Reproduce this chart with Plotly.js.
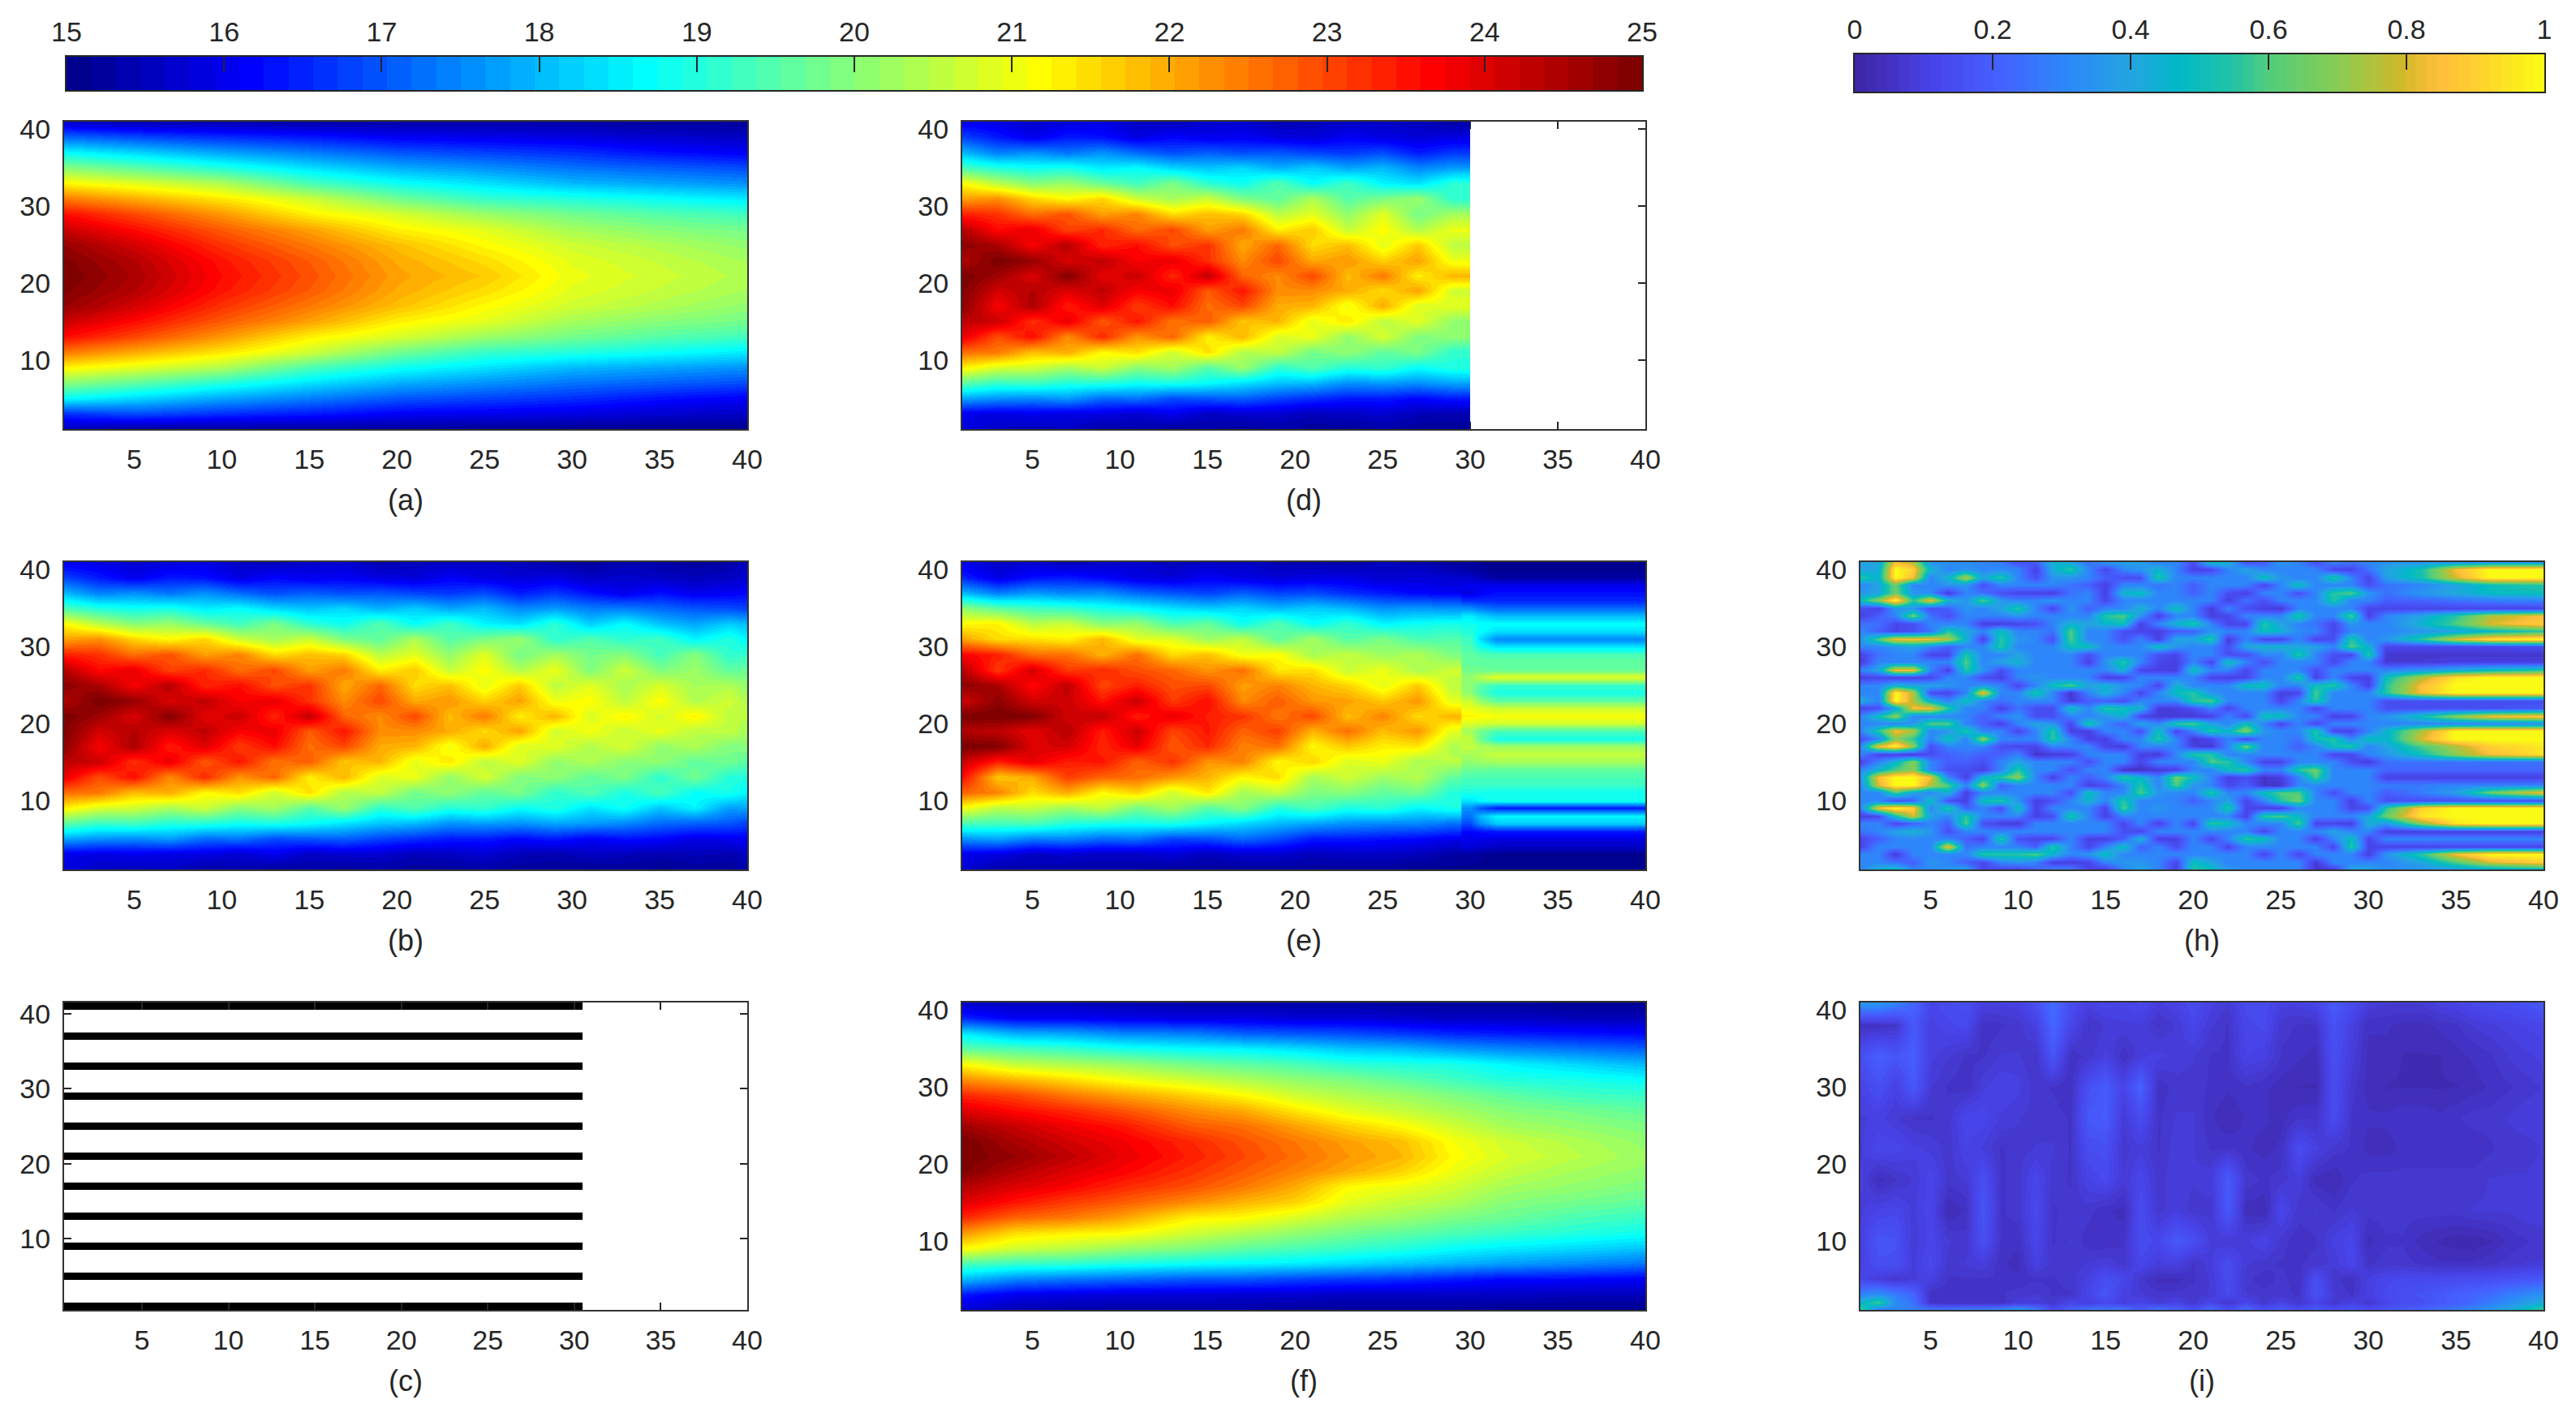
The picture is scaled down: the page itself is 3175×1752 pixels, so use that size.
<!DOCTYPE html>
<html><head><meta charset="utf-8">
<script src="https://cdn.plot.ly/plotly-3.0.1.min.js"></script>
<style>html,body{margin:0;padding:0;background:#fff}</style></head>
<body><div id="chart" style="width:3175px;height:1752px"></div>
<script>
// ---------- data. Rows are listed top (high y) to bottom (low y). ----------
const xTicks=[5,10,15,20,25,30,35,40];
const yTicks=[10,20,30,40];
const jetTicks=[15,16,17,18,19,20,21,22,23,24,25];
const errTicks=[0,0.2,0.4,0.6,0.8,1];
const rowsEvery2=[41,39,37,35,33,31,29,27,25,23,21,19,17,15,13,11,9,7,5,3,1];
const rowsEvery1=[41,40,39,38,37,36,35,34,33,32,31,30,29,28,27,26,25,24,23,22,21,20,19,18,17,16,15,14,13,12,11,10,9,8,7,6,5,4,3,2,1];

const aCols=[1,5,10,15,20,25,30,35,40];
const aZ=[
[15.6,15.4,15.4,15.3,15.3,15.3,15.3,15.2,15.2],
[17.2,16.9,16.6,16.4,16.1,16.0,15.9,15.7,15.6],
[18.7,18.3,17.8,17.4,17.0,16.8,16.6,16.3,16.1],
[20.0,19.6,19.0,18.4,17.9,17.6,17.3,17.1,16.9],
[21.25,20.9,20.4,19.4,18.8,18.4,18.0,17.8,17.6],
[22.5,22.0,21.4,20.7,19.8,19.2,19.0,18.75,18.5],
[23.6,23.0,22.2,21.3,20.8,20.2,19.8,19.5,19.3],
[24.2,23.6,22.8,22.1,21.3,20.9,20.3,20.0,19.8],
[24.7,24.1,23.2,22.5,21.8,21.2,20.7,20.4,20.1],
[24.9,24.4,23.5,22.8,22.0,21.5,20.9,20.6,20.3],
[25.0,24.5,23.6,22.9,22.1,21.7,21.0,20.7,20.4],
[24.9,24.4,23.5,22.8,22.0,21.5,20.9,20.6,20.3],
[24.7,24.1,23.2,22.5,21.8,21.2,20.7,20.4,20.1],
[24.2,23.6,22.8,22.1,21.3,20.9,20.3,20.0,19.8],
[23.6,23.0,22.2,21.3,20.8,20.2,19.8,19.5,19.3],
[22.5,22.0,21.4,20.7,19.8,19.2,19.0,18.75,18.5],
[21.25,20.9,20.4,19.4,18.8,18.4,18.0,17.8,17.6],
[20.0,19.6,19.0,18.4,17.9,17.6,17.3,17.1,16.9],
[18.7,18.3,17.8,17.4,17.0,16.8,16.6,16.3,16.1],
[16.6,16.9,16.6,16.4,16.1,16.0,15.9,15.7,15.6],
[15.5,15.2,15.2,15.2,15.2,15.1,15.1,15.1,15.1]];

const bCols=[1,3,5,7,9,11,13,15,17,19,21,23,25,27,29,31,33,35,37,39,40];
const bZ=[
[16.0,15.9,15.7,15.8,15.9,15.6,15.5,15.7,15.7,15.4,15.5,15.6,15.6,15.5,15.3,15.2,15.4,15.3,15.2,15.3,15.6],
[16.8,16.4,16.0,16.4,16.3,15.9,16.2,16.0,16.1,15.9,15.8,16.1,15.9,15.8,15.9,15.6,15.7,15.6,15.5,15.6,15.7],
[18.0,17.4,17.6,17.3,17.6,17.2,16.9,17.1,16.9,17.0,16.8,16.7,16.9,16.4,16.7,16.3,16.0,16.3,16.0,16.1,16.2],
[19.4,19.0,18.8,18.9,18.5,18.7,18.3,18.1,18.3,17.9,18.2,17.8,18.0,17.5,17.7,17.4,17.4,17.2,17.0,16.9,16.8],
[21.2,20.5,20.0,20.2,19.7,19.3,19.9,19.1,18.8,19.5,18.7,19.3,18.6,18.4,19.1,18.2,18.7,18.1,17.8,18.2,18.0],
[22.1,22.3,21.6,21.2,21.6,20.7,20.3,20.7,19.9,19.6,20.4,19.5,19.9,20.2,19.1,19.5,19.1,19.3,18.6,19.0,18.6],
[23.4,23.2,22.6,22.9,22.1,22.4,21.5,21.8,21.6,20.5,20.9,20.1,20.9,19.8,20.3,19.8,20.0,19.3,20.0,19.1,19.2],
[24.4,23.6,23.9,23.0,23.3,22.6,23.0,22.1,22.5,21.3,21.7,20.6,21.2,20.4,21.0,19.9,20.7,19.9,20.2,19.6,19.7],
[24.8,24.5,23.7,24.4,23.3,23.6,22.9,23.2,22.0,22.7,21.5,21.8,20.9,21.7,20.5,20.9,20.3,20.8,20.3,20.4,20.1],
[24.4,25.0,24.7,24.0,24.3,23.7,23.9,23.2,22.3,23.0,22.0,22.2,21.6,22.1,21.0,21.2,20.5,21.2,20.4,20.7,20.4],
[25.0,24.6,24.0,24.9,23.9,24.2,23.3,24.3,22.7,22.3,23.0,21.8,22.5,21.3,21.9,20.8,21.3,20.7,21.3,20.5,20.5],
[24.9,24.1,24.4,24.0,24.3,23.7,23.9,22.8,23.5,22.3,22.3,22.0,21.5,22.1,20.7,21.1,20.6,21.0,20.5,20.6,20.3],
[24.8,23.7,24.5,23.4,24.0,23.1,23.6,22.6,23.0,22.0,21.9,21.0,22.0,20.8,20.9,20.4,20.8,20.1,20.4,19.9,20.0],
[24.3,24.2,23.2,23.9,22.8,23.5,22.5,22.8,21.7,21.9,20.9,21.4,20.5,20.9,20.1,20.4,20.0,20.1,19.6,19.8,19.5],
[23.9,22.9,23.6,22.3,23.3,22.2,22.7,21.3,21.9,20.8,21.0,20.1,20.8,19.9,20.1,19.6,19.9,19.1,19.8,19.0,19.0],
[22.6,22.5,21.8,22.0,21.2,21.5,20.7,21.5,20.4,20.6,19.8,20.1,19.6,19.9,19.1,19.5,18.9,19.4,18.7,18.9,18.6],
[21.3,20.8,20.7,20.3,20.7,20.0,20.3,19.5,20.2,19.1,19.5,19.0,19.2,18.7,19.0,18.4,18.8,18.1,18.6,17.7,17.8],
[19.6,19.2,19.3,19.0,19.0,18.8,18.9,18.7,18.4,18.1,18.0,17.6,17.7,17.6,17.8,17.7,17.5,17.2,17.1,17.0,16.8],
[17.8,17.6,17.5,17.7,17.2,17.3,16.9,17.0,17.1,16.8,16.6,16.4,16.4,16.2,16.4,16.1,16.3,16.2,15.9,16.0,16.1],
[16.0,15.9,16.0,15.9,15.9,15.7,16.0,15.6,15.7,15.7,15.5,15.6,15.7,15.5,15.4,15.6,15.5,15.4,15.5,15.4,15.6],
[15.9,15.6,15.5,15.6,15.3,15.4,15.2,15.3,15.2,15.3,15.2,15.2,15.3,15.2,15.2,15.1,15.2,15.1,15.2,15.2,15.4]];

// (c): rows that hold a black stripe, and the sampled columns
const stripeRows=[1,5,9,13,17,21,25,29,33,37,41];
const sampledCols=[1,2,3,4,5,6,7,8,9,10,11,12,13,14,15,16,17,18,19,20,21,22,23,24,25,26,27,28,29,30];

// (d) is the first 30 columns of (b): these are the cell edges of bZ's first 15 columns
const dEdges=[0,2,4,6,8,10,12,14,16,18,20,22,24,26,28,30];

// (e) body (x below 30) and tail (x above 30)
const eEdges=[0,2,4,6,8,10,12,14,16,18,20,22,24,26,28,29.8];
const eZ=[
[16.0,15.6,15.7,15.5,15.6,15.7,15.5,15.6,15.6,15.4,15.4,15.3,15.5,15.4,15.2],
[16.5,15.9,16.3,16.4,16.2,15.9,15.8,16.1,15.9,15.8,15.9,15.9,15.7,15.8,15.7],
[18.0,17.4,17.7,17.5,17.6,17.2,17.0,16.8,17.1,16.8,16.9,16.6,16.4,16.2,16.1],
[20.1,19.6,19.3,19.2,18.9,18.7,18.4,18.2,18.3,18.0,18.2,18.0,17.6,17.7,17.6],
[21.2,21.3,20.5,20.7,20.0,20.2,19.4,19.7,18.8,19.5,18.7,19.2,18.6,18.8,18.9],
[22.1,21.5,21.5,21.3,21.9,20.9,20.9,20.2,20.6,19.6,20.3,19.5,19.9,19.4,19.5],
[23.7,23.4,22.6,22.6,21.9,22.6,21.5,21.8,21.0,21.2,20.3,20.6,20.2,20.4,19.9],
[24.4,23.1,24.1,23.1,23.3,22.9,22.7,22.2,22.6,21.4,21.5,20.6,21.0,20.3,20.7],
[24.8,24.5,23.6,24.3,23.0,23.4,22.9,23.0,22.1,22.4,21.9,21.6,20.9,21.7,20.5],
[24.1,24.8,24.1,24.2,23.5,24.2,23.1,23.6,22.3,22.8,22.2,22.1,21.7,22.2,20.9],
[25.0,25.0,24.9,24.1,24.3,23.4,23.9,23.4,23.2,22.5,23.0,21.8,22.4,21.5,21.9],
[24.4,24.3,23.9,24.4,23.4,24.2,23.0,23.5,22.7,23.1,21.9,22.6,21.8,22.2,20.9],
[25.0,24.9,24.0,24.1,23.3,23.9,22.8,23.3,22.4,22.6,21.2,21.7,21.3,21.4,20.4],
[24.2,23.4,23.9,23.4,23.5,22.7,23.2,22.2,22.4,21.2,21.6,20.8,21.0,20.3,20.5],
[23.6,21.7,22.0,23.1,22.7,22.6,22.2,21.9,21.2,21.5,20.3,20.7,20.2,20.5,19.6],
[22.7,22.4,21.5,22.0,21.2,21.6,20.7,21.4,20.3,20.6,19.9,20.0,19.6,19.8,19.0],
[21.1,20.5,20.6,20.2,20.6,19.8,20.3,19.5,20.0,19.0,19.4,18.9,19.1,18.6,18.9],
[19.4,19.3,19.4,19.0,18.9,18.8,18.9,18.6,18.3,18.0,17.8,17.6,17.5,17.5,17.3],
[17.6,17.8,17.4,17.5,17.2,17.3,16.8,16.9,17.2,16.9,16.4,16.4,16.3,16.2,16.0],
[16.0,15.9,15.6,15.7,15.6,15.6,15.8,15.5,15.7,15.7,15.5,15.6,15.6,15.5,15.3],
[15.8,15.3,15.4,15.3,15.3,15.3,15.2,15.2,15.2,15.2,15.2,15.2,15.2,15.1,15.1]];
const eTailEdges=[29.5,30.5,32.5,40.5];
const eAt30=[15.2,15.3,15.7,16.0,15.9,16.6,17.6,18.5,18.8,19.0,19.3,19.4,19.6,19.6,19.8,20.1,20.0,20.1,20.7,21.0,21.3,20.8,20.3,20.6,20.6,20.3,20.1,19.7,19.4,19.2,18.9,18.4,17.6,17.3,16.9,16.2,16.0,15.8,15.3,15.2,15.1];
const eTailProfile=[15.1,15.1,15.3,16.0,16.3,16.5,17.2,18.0,18.7,18.4,17.5,18.4,19.4,19.6,19.7,20.9,19.2,18.9,19.6,20.7,21.1,20.7,19.4,18.9,20.2,20.6,20.3,19.6,19.4,19.2,18.8,18.9,16.4,18.6,18.2,16.4,15.9,15.6,15.1,15.1,15.1];

const fCols=[1,4,7,10,14,17,20,23,26,29,32,36,40];
const fZ=[
[15.6,15.5,15.5,15.4,15.3,15.3,15.3,15.3,15.2,15.2,15.2,15.1,15.1],
[16.5,16.1,16.1,16.0,15.9,15.9,15.8,15.8,15.7,15.6,15.6,15.5,15.5],
[18.5,17.9,17.8,17.5,17.4,17.1,17.0,16.9,16.7,16.5,16.4,16.3,16.2],
[19.6,19.4,19.2,18.9,18.7,18.6,18.4,18.1,18.0,17.7,17.5,17.3,17.1],
[21.2,20.6,20.4,20.2,19.8,19.6,19.4,19.1,19.0,18.9,18.6,18.3,18.0],
[22.3,21.9,21.5,21.1,20.7,20.4,20.1,19.9,19.6,19.3,19.0,18.9,18.7],
[23.3,23.0,22.5,22.1,21.6,21.2,20.7,20.4,20.2,19.9,19.6,19.3,19.2],
[24.0,23.6,23.3,22.9,22.3,22.0,21.4,20.9,20.6,20.3,20.0,19.8,19.6],
[24.6,24.2,23.8,23.5,22.8,22.6,22.1,21.6,21.2,20.7,20.3,20.1,19.9],
[25.0,24.5,24.1,23.8,23.3,22.9,22.5,22.1,21.8,21.1,20.7,20.4,20.1],
[25.0,24.7,24.3,23.9,23.4,23.0,22.6,22.2,21.9,21.2,20.8,20.5,20.2],
[24.9,24.4,24.0,23.7,23.2,22.8,22.4,22.0,21.6,21.0,20.6,20.3,20.1],
[24.4,24.0,23.7,23.3,22.9,22.5,22.0,21.2,21.0,20.7,20.3,20.1,19.9],
[24.0,23.5,23.1,22.8,22.3,21.9,21.6,20.9,20.6,20.4,20.0,19.8,19.6],
[23.3,22.7,22.5,22.1,21.3,21.2,20.8,20.4,20.2,19.9,19.7,19.4,19.2],
[22.2,21.5,21.3,21.2,20.7,20.4,20.1,19.8,19.6,19.4,19.2,19.0,18.8],
[21.2,20.7,20.5,20.2,19.9,19.6,19.4,19.2,19.0,18.7,18.5,18.3,18.1],
[19.4,19.2,19.1,18.9,18.7,18.6,18.5,18.3,18.1,17.9,17.7,17.5,17.3],
[18.0,17.5,17.3,17.2,17.0,17.0,16.8,16.7,16.6,16.4,16.2,16.2,16.1],
[16.4,16.0,15.9,15.8,15.8,15.7,15.7,15.6,15.6,15.6,15.6,15.5,15.5],
[15.7,15.4,15.3,15.3,15.3,15.3,15.2,15.2,15.2,15.2,15.1,15.1,15.1]];

// (h) every row: x=1..17, then x=18..30, then the tail columns
const hCols=[1,2,3,4,5,6,7,8,9,10,11,12,13,14,15,16,17,18,19,20,21,22,23,24,25,26,27,28,29,30,31,33,35,37,40];
const hLeft=[
[.4,.4,.85,.75,.35,.33,.32,.3,.28,.15,.2,.45,.4,.25,.35,.38,.38],
[.38,.42,1,.9,.45,.3,.35,.3,.32,.3,.1,.42,.55,.3,.12,.3,.35],
[.55,.45,1,.85,.3,.45,.75,.4,.55,.3,.15,.35,.35,.3,.2,.15,.15],
[.3,.4,.65,.3,.3,.35,.35,.15,.3,.3,.3,.3,.25,.2,.1,.3,.3],
[.35,.4,.65,.35,.32,.08,.3,.25,.15,.12,.12,.1,.25,.3,.1,.45,.5],
[.5,.7,1,.55,.85,.45,.35,.6,.35,.3,.3,.35,.3,.3,.12,.3,.3],
[.15,.1,.35,.35,.15,.2,.35,.3,.4,.55,.3,.12,.35,.2,.3,.3,.45],
[.1,.2,.3,.65,.25,.15,.3,.3,.3,.35,.3,.3,.3,.3,.55,.6,.35],
[.25,.25,.12,.15,.3,.3,.3,.1,.1,.12,.15,.3,.45,.4,.45,.5,.1],
[.3,.2,.12,.15,.25,.55,.4,.3,.5,.3,.3,.25,.6,.3,.3,.15,.12],
[.35,.6,.85,.85,.85,.75,.45,.1,.55,.35,.3,.15,.6,.3,.3,.15,.3],
[.3,.3,.35,.4,.3,.2,.3,.3,.55,.3,.3,.3,.5,.5,.3,.3,.3],
[.1,.25,.3,.3,.12,.12,.55,.3,.3,.4,.3,.3,.3,.15,.3,.3,.3],
[.08,.3,.3,.3,.3,.3,.6,.3,.4,.45,.3,.3,.3,.1,.35,.55,.3],
[.3,.4,.85,.85,.3,.1,.55,.35,.15,.3,.3,.3,.3,.3,.3,.45,.12],
[.1,.12,.1,.1,.12,.3,.3,.15,.1,.3,.35,.3,.3,.3,.1,.12,.3],
[.3,.3,.45,.4,.4,.35,.3,.35,.3,.12,.3,.5,.6,.4,.45,.35,.3],
[.3,.3,1,.75,.15,.12,.3,.85,.3,.3,.55,.3,.06,.3,.45,.3,.12],
[.42,.3,1,.75,.45,.3,.5,.3,.25,.3,.3,.3,.08,.2,.2,.15,.3],
[.12,.15,.4,.85,.85,.55,.3,.3,.1,.25,.15,.15,.5,.3,.55,.5,.45],
[.3,.5,.7,.3,.3,.3,.3,.2,.3,.35,.15,.15,.3,.3,.35,.45,.12],
[.3,.3,.3,.35,.6,.6,.3,.2,.1,.3,.4,.35,.12,.55,.3,.2,.4],
[.3,.55,.85,.75,.3,.35,.55,.3,.3,.12,.3,.55,.1,.1,.3,.3,.15],
[.15,.3,.7,.55,.3,.5,.3,.7,.3,.3,.3,.55,.3,.1,.1,.3,.3],
[.3,.85,1,.7,.15,.3,.3,.3,.15,.12,.12,.3,.3,.3,.12,.08,.3],
[.3,.1,.1,.08,.15,.2,.25,.2,.2,.3,.06,.08,.1,.3,.3,.3,.1],
[.1,.3,.45,.7,.3,.2,.2,.15,.3,.4,.3,.3,.3,.15,.3,.3,.12],
[.3,.45,.6,.7,.3,.15,.15,.1,.3,.55,.3,.3,.15,.3,.3,.05,.05],
[.35,.85,1,1,.85,.3,.1,.45,.55,.7,.3,.1,.3,.2,.3,.55,.45],
[.3,.8,1,1,.75,.6,.3,.7,.2,.3,.3,.3,.3,.1,.15,.3,.55],
[.3,.3,.6,.4,.3,.45,.1,.3,.3,.3,.3,.3,.15,.5,.3,.3,.6],
[.3,.3,.15,.2,.5,.15,.1,.5,.55,.35,.1,.15,.3,.45,.3,.55,.3],
[.3,.85,1,.9,.3,.55,.2,.3,.15,.5,.1,.3,.3,.3,.12,.6,.3],
[.1,.12,.5,.8,.4,.3,.55,.3,.3,.3,.1,.15,.55,.3,.1,.3,.3],
[.3,.3,.12,.2,.3,.2,.6,.15,.1,.08,.3,.3,.3,.3,.3,.12,.3],
[.25,.3,.4,.45,.35,.15,.3,.3,.3,.3,.3,.3,.3,.3,.3,.15,.12],
[.12,.2,.3,.3,.3,.3,.2,.12,.55,.15,.12,.12,.3,.1,.1,.2,.45],
[.12,.3,.3,.3,.3,.85,.25,.3,.3,.3,.2,.55,.3,.12,.3,.5,.2],
[.3,.3,.08,.3,.3,.3,.3,.55,.55,.55,.6,.45,.3,.35,.5,.3,.3],
[.3,.3,.25,.2,.35,.3,.2,.12,.3,.35,.3,.1,.1,.12,.3,.35,.35],
[.3,.45,.5,.3,.3,.35,.4,.12,.12,.1,.2,.3,.3,.1,.08,.3,.4]];
const hRight=[
[.3,.3,.15,.5,.45,.15,.2,.35,.3,.15,.3,.25,.3],
[.45,.3,.1,.12,.3,.4,.3,.3,.3,.3,.12,.12,.25],
[.55,.3,.3,.3,.3,.3,.5,.35,.3,.3,.55,.3,.12],
[.25,.3,.2,.3,.3,.3,.12,.3,.5,.3,.3,.3,.15],
[.3,.3,.2,.3,.15,.1,.3,.3,.15,.3,.55,.6,.35],
[.3,.3,.3,.3,.1,.25,.15,.3,.3,.3,.55,.3,.3],
[.3,.5,.3,.08,.3,.15,.1,.08,.3,.3,.3,.3,.12],
[.1,.3,.3,.1,.12,.3,.3,.3,.55,.3,.3,.6,.1],
[.3,.45,.55,.3,.12,.12,.55,.4,.3,.25,.12,.35,.3],
[.1,.2,.2,.35,.3,.3,.5,.45,.3,.3,.12,.3,.3],
[.1,.4,.4,.55,.08,.3,.12,.12,.3,.12,.15,.55,.3],
[.5,.35,.3,.3,.15,.4,.45,.45,.4,.4,.3,.6,.45],
[.15,.12,.3,.3,.15,.15,.3,.3,.55,.3,.15,.12,.55],
[.12,.1,.3,.12,.5,.3,.15,.3,.3,.3,.12,.3,.3],
[.1,.1,.5,.3,.3,.12,.3,.3,.3,.15,.3,.3,.3],
[.3,.3,.3,.12,.1,.12,.3,.3,.55,.1,.3,.12,.1],
[.12,.45,.3,.3,.3,.5,.5,.3,.3,.5,.55,.3,.1],
[.3,.5,.55,.35,.3,.3,.3,.1,.12,.6,.3,.3,.3],
[.3,.3,.55,.6,.3,.3,.3,.12,.3,.55,.3,.3,.3],
[.08,.1,.15,.3,.12,.3,.3,.3,.3,.12,.3,.3,.3],
[.08,.08,.08,.1,.3,.12,.5,.5,.3,.3,.1,.12,.3],
[.3,.55,.6,.4,.3,.5,.3,.12,.3,.12,.3,.3,.3],
[.5,.12,.3,.55,.45,.7,.35,.3,.3,.55,.12,.12,.3],
[.55,.3,.08,.12,.3,.12,.3,.3,.25,.5,.55,.3,.5],
[.3,.3,.1,.08,.3,.65,.3,.3,.2,.3,.5,.55,.3],
[.08,.3,.55,.55,.3,.3,.3,.3,.3,.3,.12,.12,.3],
[.3,.3,.3,.6,.55,.3,.12,.12,.3,.3,.3,.15,.08],
[.08,.1,.3,.3,.5,.55,.3,.3,.55,.65,.3,.3,.3],
[.3,.65,.5,.3,.1,.15,.06,.1,.3,.6,.3,.3,.3],
[.3,.6,.35,.3,.12,.2,.06,.06,.3,.3,.3,.3,.3],
[.35,.3,.3,.55,.3,.3,.5,.6,.6,.3,.15,.3,.3],
[.3,.3,.2,.3,.4,.12,.3,.55,.65,.3,.3,.1,.3],
[.35,.3,.3,.3,.55,.12,.1,.1,.3,.3,.3,.12,.15],
[.3,.3,.3,.3,.3,.1,.55,.6,.45,.3,.3,.3,.4],
[.1,.3,.12,.55,.5,.3,.3,.3,.6,.12,.12,.1,.45],
[.3,.3,.3,.3,.3,.3,.12,.3,.3,.3,.4,.3,.3],
[.1,.1,.3,.12,.3,.55,.5,.3,.3,.1,.3,.5,.12],
[.3,.15,.3,.3,.12,.3,.3,.3,.3,.3,.12,.55,.12],
[.3,.3,.3,.3,.3,.3,.12,.3,.12,.3,.3,.3,.1],
[.3,.12,.5,.4,.3,.3,.3,.3,.3,.08,.3,.3,.3],
[.3,.1,.55,.5,.35,.3,.3,.3,.3,.06,.08,.4,.4]];
const hTail=[
[.35,.35,.35,.35,.35],[.40,.52,.85,1,1],[.38,.52,.8,1,1],[.25,.3,.4,.5,.55],[.25,.35,.42,.48,.5],
[.2,.22,.25,.28,.3],[.12,.12,.12,.12,.12],[.3,.4,.55,.75,.85],[.3,.45,.6,.8,.9],[.3,.35,.4,.48,.55],
[.35,.55,.8,.95,1],[.12,.12,.12,.12,.15],[.07,.07,.07,.07,.07],[.08,.08,.1,.1,.1],[.3,.35,.42,.48,.55],
[.5,.75,.95,1,1],[.55,.85,1,1,1],[.55,.85,1,1,1],[.15,.15,.15,.15,.15],[.15,.15,.15,.15,.18],
[.35,.5,.7,.85,.9],[.3,.3,.3,.3,.32],[.45,.75,1,1,1],[.45,.8,1,1,1],[.4,.6,.75,.9,.95],
[.35,.5,.7,.85,.95],[.25,.25,.25,.25,.25],[.22,.22,.22,.22,.22],[.1,.1,.1,.1,.1],[.28,.28,.3,.3,.3],
[.2,.28,.38,.65,.85],[.15,.15,.15,.15,.15],[.55,.9,1,1,1],[.65,.95,1,1,1],[.35,.7,.95,1,1],
[.1,.1,.1,.1,.1],[.3,.3,.3,.3,.3],[.12,.12,.12,.12,.12],[.35,.55,.85,1,1],[.3,.4,.6,.8,.9],[.32,.34,.36,.4,.45]];

const iCols=[1,2,3,4,5,6,7,8,9,10,11,12,13,14,15,16,17,18,19,20,21,22,23,24,25,26,27,28,29,30,31,32,33,34,35,36,37,38,39,40];
const iRows=[41,38,34,30,26,22,18,14,10,7,5,3,2,1];
const iZ=[
[.36,.36,.30,.22,.12,.14,.15,.10,.10,.10,.15,.24,.14,.10,.12,.11,.13,.09,.11,.14,.10,.08,.13,.14,.10,.10,.12,.18,.14,.09,.08,.08,.08,.10,.11,.13,.14,.15,.16,.18],
[.05,.05,.06,.18,.10,.12,.13,.05,.06,.07,.10,.22,.12,.06,.08,.09,.09,.06,.08,.12,.08,.06,.12,.13,.07,.06,.06,.16,.10,.05,.05,.04,.04,.05,.06,.08,.09,.10,.11,.12],
[.15,.20,.17,.20,.10,.08,.06,.06,.08,.08,.06,.17,.05,.07,.10,.05,.09,.10,.09,.08,.06,.06,.11,.10,.06,.05,.04,.15,.09,.04,.04,.03,.03,.03,.04,.05,.06,.08,.09,.10],
[.11,.15,.10,.18,.08,.06,.05,.09,.11,.10,.07,.06,.05,.15,.19,.11,.21,.05,.07,.07,.06,.05,.06,.05,.04,.03,.03,.14,.07,.04,.03,.03,.03,.03,.03,.04,.05,.06,.07,.08],
[.09,.10,.08,.06,.06,.07,.12,.12,.09,.08,.07,.07,.06,.18,.19,.08,.14,.06,.08,.08,.05,.03,.05,.05,.04,.06,.06,.14,.06,.05,.05,.06,.06,.05,.06,.07,.07,.08,.09,.09],
[.09,.12,.12,.10,.09,.07,.11,.09,.06,.07,.08,.08,.06,.14,.15,.07,.09,.06,.09,.08,.06,.06,.05,.04,.05,.14,.10,.07,.06,.04,.04,.05,.05,.05,.05,.05,.06,.07,.07,.08],
[.10,.04,.06,.08,.12,.07,.08,.15,.06,.07,.12,.07,.06,.11,.13,.08,.12,.07,.09,.08,.09,.19,.07,.06,.07,.09,.04,.03,.06,.07,.07,.07,.07,.07,.07,.07,.08,.08,.08,.09],
[.09,.11,.12,.09,.12,.03,.05,.17,.06,.07,.13,.06,.07,.07,.05,.04,.14,.07,.09,.07,.07,.18,.04,.03,.12,.07,.08,.06,.08,.07,.07,.07,.07,.07,.07,.08,.08,.08,.09,.09],
[.10,.17,.16,.08,.12,.08,.07,.15,.06,.05,.12,.06,.08,.05,.05,.06,.14,.12,.18,.15,.09,.08,.09,.11,.07,.05,.06,.10,.12,.04,.06,.06,.04,.03,.02,.02,.03,.05,.06,.07],
[.10,.15,.15,.09,.13,.07,.08,.09,.05,.04,.10,.07,.07,.08,.09,.07,.12,.09,.10,.06,.09,.14,.08,.07,.06,.06,.07,.08,.12,.06,.07,.07,.06,.05,.05,.05,.06,.07,.08,.08],
[.12,.09,.07,.09,.10,.06,.06,.06,.06,.05,.06,.06,.07,.10,.15,.12,.07,.04,.04,.06,.08,.14,.07,.05,.07,.05,.15,.07,.05,.10,.12,.13,.13,.13,.14,.14,.15,.16,.17,.18],
[.30,.34,.28,.22,.05,.05,.05,.05,.06,.07,.08,.06,.06,.12,.17,.10,.08,.07,.07,.07,.08,.13,.08,.07,.07,.06,.16,.08,.06,.10,.13,.15,.16,.18,.20,.22,.24,.28,.31,.34],
[.45,.58,.32,.25,.06,.05,.05,.05,.05,.09,.09,.07,.12,.09,.13,.09,.12,.08,.11,.07,.12,.07,.12,.07,.11,.07,.11,.07,.10,.07,.12,.14,.15,.18,.20,.23,.28,.33,.38,.42],
[.60,.25,.30,.30,.28,.28,.30,.30,.32,.38,.30,.14,.22,.28,.28,.28,.18,.28,.22,.16,.25,.15,.25,.15,.20,.15,.20,.15,.18,.15,.17,.20,.22,.25,.28,.32,.36,.42,.50,.60]];

// ---------- colour maps ----------
function stepped(colorAt,n){const s=[];for(let i=0;i<n;i++){const c=colorAt(i);s.push([i/n,c],[(i+1)/n,c]);}return s;}
const jetScale=stepped(i=>{const j=i+1;
  const b=j<=8?(j+8)/16:j<=24?1:j<=40?(40-j)/16:0;
  const g=j<=8?0:j<=24?(j-8)/16:j<=40?1:j<=56?(56-j)/16:0;
  const r=j<=24?0:j<=40?(j-24)/16:j<=56?1:(72-j)/16;
  return `rgb(${Math.round(r*255)},${Math.round(g*255)},${Math.round(b*255)})`;},64);
const errAnchors=[[0,62,38,168],[.1,71,66,230],[.2,70,95,255],[.3,45,135,250],[.4,35,165,225],[.47,0,185,200],[.55,35,195,165],[.6,80,205,125],[.7,135,205,85],[.8,210,185,40],[.85,255,190,60],[.9,255,205,50],[1,250,250,20]];
const errScale=stepped(i=>{const t=i/63;let k=0;while(k<errAnchors.length-2&&t>errAnchors[k+1][0])k++;
  const A=errAnchors[k],B=errAnchors[k+1],u=(t-A[0])/(B[0]-A[0]);
  return `rgb(${[1,2,3].map(c=>Math.round(A[c]+(B[c]-A[c])*u)).join(',')})`;},64);
const stripeScale=[[0,'#ffffff'],[1,'#000000']];

// ---------- layout ----------
const W=3175,H=1752,ink='#262626',fs=34,labelFs=36;
const colLeft=[79,1186,2293],rowTop=[150,693,1236],pw=842,ph=379;
const layout={width:W,height:H,margin:{l:0,r:0,t:0,b:0},paper_bgcolor:'#fff',plot_bgcolor:'#fff',
  showlegend:false,font:{family:'"Liberation Sans",Arial,sans-serif',size:fs,color:ink}};
const traces=[];
let idx=0;
function panel(label,col,row,opts){
  idx++;const s=idx===1?'':String(idx);
  const over=opts.above?'above traces':'below traces';
  const L=colLeft[col],T=rowTop[row];
  layout['xaxis'+s]={domain:[L/W,(L+pw)/W],anchor:'y'+s,range:opts.xr||[1,40],tickmode:'array',tickvals:xTicks,
    ticks:'inside',ticklen:9,tickwidth:2,tickcolor:ink,showline:true,linewidth:2,linecolor:'#333',mirror:'ticks',
    showgrid:false,zeroline:false,layer:over,ticklabelstandoff:6,tickfont:{size:fs,color:ink},
    title:{text:label,standoff:20,font:{size:labelFs,color:ink}}};
  layout['yaxis'+s]={domain:[1-(T+ph)/H,1-T/H],anchor:'x'+s,range:opts.yr||[1,41],tickmode:'array',tickvals:yTicks,
    ticks:'inside',ticklen:9,tickwidth:2,tickcolor:ink,showline:true,linewidth:2,linecolor:'#333',mirror:'ticks',
    showgrid:false,zeroline:false,layer:over,ticklabelstandoff:8,tickfont:{size:fs,color:ink}};
  return {xaxis:'x'+s,yaxis:'y'+s};
}
function heat(ax,x,y,z,scale,zmin,zmax){
  traces.push(Object.assign({type:'heatmap',x:x,y:y.slice().reverse(),z:z.slice().reverse(),colorscale:scale,zmin:zmin,zmax:zmax,
    zsmooth:'best',showscale:false,hoverinfo:'skip'},ax));
}
// colour bars: a two-point ramp painted through the same stepped colour map, on its own axes
function colorBar(L,R,T,B,ticks,scale){
  idx++;const s=String(idx),lo=ticks[0],hi=ticks[ticks.length-1];
  layout['xaxis'+s]={domain:[L/W,R/W],anchor:'y'+s,side:'top',range:[lo,hi],tickmode:'array',tickvals:ticks,ticktext:ticks.map(String),
    ticks:'inside',ticklen:19,tickwidth:2,tickcolor:ink,showline:true,linewidth:2,linecolor:ink,mirror:true,showgrid:false,zeroline:false,
    layer:'above traces',ticklabelstandoff:3,tickfont:{size:fs,color:ink}};
  layout['yaxis'+s]={domain:[1-B/H,1-T/H],anchor:'x'+s,range:[0,1],showticklabels:false,ticks:'',showline:true,linewidth:2,linecolor:ink,mirror:true,showgrid:false,zeroline:false};
  traces.push({type:'heatmap',x:[lo,hi],y:[0,1],z:[[lo,hi],[lo,hi]],zmin:lo,zmax:hi,zsmooth:'best',colorscale:scale,showscale:false,hoverinfo:'skip',xaxis:'x'+s,yaxis:'y'+s});
}

const A=panel('(a)',0,0,{});
heat(A,aCols,rowsEvery2,aZ,jetScale,15,25);
const B=panel('(b)',0,1,{});
heat(B,bCols,rowsEvery2,bZ,jetScale,15,25);
const C=panel('(c)',0,2,{xr:[0.5,40],yr:[0.5,41.5],above:true});
traces.push(Object.assign({type:'heatmap',x:sampledCols,y:rowsEvery1.slice().reverse(),
  z:rowsEvery1.slice().reverse().map(r=>sampledCols.map(()=>stripeRows.includes(r)?1:0)),
  colorscale:stripeScale,zmin:0,zmax:1,showscale:false,hoverinfo:'skip'},C));
const D=panel('(d)',1,0,{});
heat(D,dEdges,rowsEvery2,bZ.map(r=>r.slice(0,15)),jetScale,15,25);
const E=panel('(e)',1,1,{});
heat(E,eEdges,rowsEvery2,eZ,jetScale,15,25);
heat(E,eTailEdges,rowsEvery1,eTailProfile.map((v,i)=>[eAt30[i],v,v]),jetScale,15,25);
const F=panel('(f)',1,2,{});
heat(F,fCols,rowsEvery2,fZ,jetScale,15,25);
const Hh=panel('(h)',2,1,{});
heat(Hh,hCols,rowsEvery1,hLeft.map((r,i)=>r.concat(hRight[i],hTail[i])),errScale,0,1);
const I=panel('(i)',2,2,{});
heat(I,iCols,iRows,iZ,errScale,0,1);
colorBar(82,2024,70,111,jetTicks,jetScale);
colorBar(2286,3136,67,113,errTicks,errScale);

Plotly.newPlot('chart',traces,layout,{displayModeBar:false,staticPlot:true});
</script></body></html>
